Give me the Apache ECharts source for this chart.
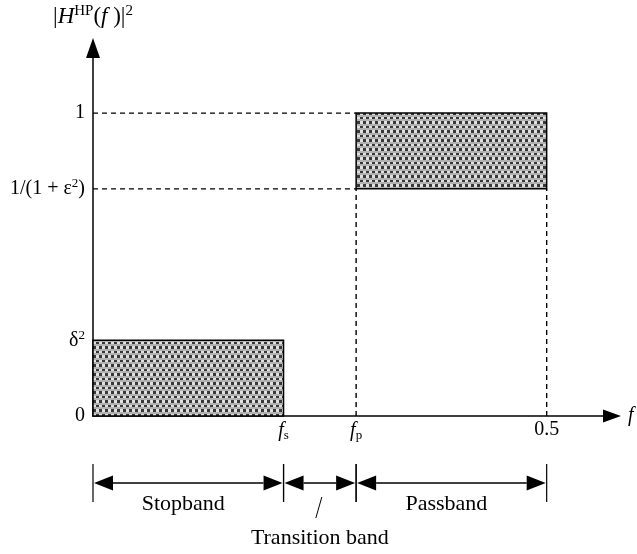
<!DOCTYPE html>
<html>
<head>
    <meta charset="utf-8">
    <title>High-pass filter specification</title>
    <script src="https://cdn.jsdelivr.net/npm/echarts@6/dist/echarts.min.js"></script>
    <style>
        html, body { margin: 0; padding: 0; background: #fff; }
        #chart1 { width: 637px; height: 554px; }
    </style>
</head>
<body>
<div id="chart1"></div>

<script type="text/javascript">
    // band edges (normalised frequency) and gain levels
    var fS = 0.21;
    var fP = 0.29;
    var fEnd = 0.5;
    var delta2 = 0.25;
    var passLow = 0.75;
    var passHigh = 1;

    // tick values and their labels
    var xTickValues = [fS, fP, fEnd];
    var xTickLabels = ['{i|f}{sub|s}', '{i|f}{sub|p}', '0.5'];
    var yTickValues = [0, delta2, passLow, passHigh];
    var yTickLabels = ['0', 'δ{sup|2}', '1/(1 + ε{sup|2})', '1'];

    // shaded tolerance boxes: [x0, x1, y0, y1]
    var stopBox = [0, fS, 0, delta2];
    var passBox = [fP, fEnd, passLow, passHigh];

    // band annotation below the axis
    var bandEdges = [0, fS, fP, fEnd];
    var bandNames = ['Stopband', 'Transition band', 'Passband'];

    // dashed guide lines
    var guide1 = [[0, passHigh], [fP, passHigh]];
    var guide2 = [[0, passLow], [fP, passLow]];
    var guide3 = [[fP, 0], [fP, passLow]];
    var guide4 = [[fEnd, 0], [fEnd, passLow]];

    var FONT = '"Liberation Serif", "DejaVu Serif", serif';

    var richStyles = {
        i: { fontFamily: FONT, fontSize: 20, fontStyle: 'italic', color: '#000' },
        sub: { fontFamily: FONT, fontSize: 13, color: '#000', padding: [9, 0, 0, 0] },
        sup: { fontFamily: FONT, fontSize: 13, color: '#000', padding: [0, 0, 10, 0] }
    };
    // slightly bigger set for the axis title
    var nameRich = {
        i: { fontFamily: FONT, fontSize: 23, fontStyle: 'italic', color: '#000' },
        sup: { fontFamily: FONT, fontSize: 15, color: '#000', padding: [0, 0, 11, 0] }
    };

    // halftone fill like the printed figure
    function makeDots() {
        var c = document.createElement('canvas');
        c.width = 6;
        c.height = 9;
        var g = c.getContext('2d');
        g.fillStyle = '#b2b2b2';
        g.fillRect(0, 0, 6, 9);
        g.fillStyle = '#e0e0e0';
        g.fillRect(3, 0, 3, 2);
        g.fillRect(0, 4, 3, 3);
        g.fillStyle = '#383838';
        g.fillRect(0, 0, 3, 2);
        g.fillRect(3, 4, 3, 3);
        return c;
    }
    var dots = makeDots();

    function dashed(data) {
        return {
            type: 'line',
            data: data,
            symbol: 'none',
            silent: true,
            lineStyle: { color: '#000', width: 1.4, type: [5, 4] },
            z: 1
        };
    }

    var myChart1 = echarts.init(document.getElementById('chart1'));

    myChart1.setOption({
        animation: false,
        backgroundColor: '#fff',
        grid: { left: 93, right: 25, top: 48, bottom: 138 },
        xAxis: {
            type: 'value',
            min: 0,
            max: 0.572,
            splitLine: { show: false },
            axisTick: { show: false },
            axisLine: {
                onZero: false,
                symbol: ['none', 'triangle'],
                symbolSize: [13, 18],
                lineStyle: { color: '#000', width: 1.5 }
            },
            axisLabel: {
                customValues: xTickValues,
                margin: 4,
                color: '#000',
                fontFamily: FONT,
                fontSize: 20,
                formatter: function (v) {
                    return xTickLabels[xTickValues.indexOf(v)];
                },
                rich: richStyles
            },
            name: 'f',
            nameLocation: 'end',
            nameGap: 16,
            nameTextStyle: { fontFamily: FONT, fontSize: 20, fontStyle: 'italic', color: '#000', padding: [8, 0, 0, 0] }
        },
        yAxis: {
            type: 'value',
            min: 0,
            max: 1.215,
            splitLine: { show: false },
            axisTick: { show: false },
            axisLine: {
                onZero: false,
                symbol: ['none', 'triangle'],
                symbolSize: [14, 20],
                lineStyle: { color: '#000', width: 1.5 }
            },
            axisLabel: {
                customValues: yTickValues,
                margin: 8,
                color: '#000',
                fontFamily: FONT,
                fontSize: 20,
                formatter: function (v) {
                    return yTickLabels[yTickValues.indexOf(v)];
                },
                rich: richStyles
            },
            name: '|{i|H}{sup|HP}({i|f} )|{sup|2}',
            nameLocation: 'end',
            nameGap: 18,
            nameTextStyle: { fontFamily: FONT, fontSize: 23, color: '#000', rich: nameRich }
        },
        series: [
            dashed(guide1),
            dashed(guide2),
            dashed(guide3),
            dashed(guide4),
            {
                // tolerance boxes
                type: 'custom',
                silent: true,
                z: 2,
                encode: { x: [0, 1], y: [2, 3] },
                data: [stopBox, passBox],
                renderItem: function (params, api) {
                    var p0 = api.coord([api.value(0), api.value(2)]);
                    var p1 = api.coord([api.value(1), api.value(3)]);
                    return {
                        type: 'rect',
                        shape: { x: p0[0], y: p1[1], width: p1[0] - p0[0], height: p0[1] - p1[1] },
                        style: { fill: { image: dots, repeat: 'repeat' }, stroke: '#000', lineWidth: 1.5 }
                    };
                }
            },
            {
                // band arrows under the axis
                type: 'custom',
                silent: true,
                clip: false,
                encode: { x: [0, 1], y: 2 },
                data: [
                    [bandEdges[0], bandEdges[1], 0],
                    [bandEdges[1], bandEdges[2], 0],
                    [bandEdges[2], bandEdges[3], 0]
                ],
                renderItem: function (params, api) {
                    var a = api.coord([api.value(0), 0]);
                    var b = api.coord([api.value(1), 0]);
                    var x0 = a[0], x1 = b[0];
                    var y = a[1] + 67;
                    var ah = 20, aw = 7.5;
                    var name = bandNames[params.dataIndex];
                    var mid = (x0 + x1) / 2;
                    var children = [
                        { type: 'line', shape: { x1: x0, y1: y - 19, x2: x0, y2: y + 19 }, style: { stroke: '#000', lineWidth: 1.2 } },
                        { type: 'line', shape: { x1: x1, y1: y - 19, x2: x1, y2: y + 19 }, style: { stroke: '#000', lineWidth: 1.2 } },
                        { type: 'line', shape: { x1: x0 + ah, y1: y, x2: x1 - ah, y2: y }, style: { stroke: '#000', lineWidth: 1.5 } },
                        { type: 'polygon', shape: { points: [[x0 + 1, y], [x0 + ah, y - aw], [x0 + ah, y + aw]] }, style: { fill: '#000' } },
                        { type: 'polygon', shape: { points: [[x1 - 1, y], [x1 - ah, y - aw], [x1 - ah, y + aw]] }, style: { fill: '#000' } }
                    ];
                    if (x1 - x0 < 120) {
                        // narrow band: leader mark and label further down
                        children.push({ type: 'line', shape: { x1: mid + 2, y1: y + 14, x2: mid - 4, y2: y + 35 }, style: { stroke: '#000', lineWidth: 1 } });
                        children.push({ type: 'text', style: { text: name, x: mid, y: y + 55, textAlign: 'center', textVerticalAlign: 'middle', fontFamily: FONT, fontSize: 22, fill: '#000' } });
                    } else {
                        children.push({ type: 'text', style: { text: name, x: mid - 5, y: y + 21, textAlign: 'center', textVerticalAlign: 'middle', fontFamily: FONT, fontSize: 22, fill: '#000' } });
                    }
                    return { type: 'group', children: children };
                }
            }
        ]
    });
</script>
</body>
</html>
